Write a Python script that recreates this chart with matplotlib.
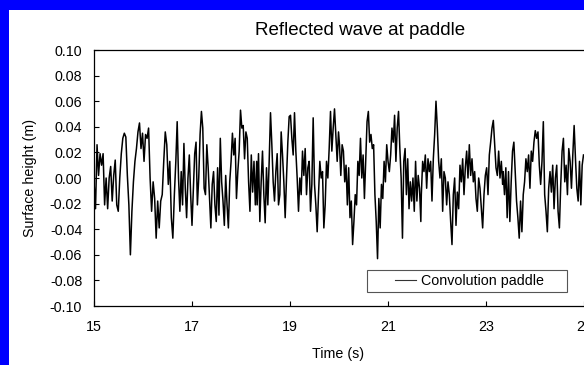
import numpy as np
import matplotlib.pyplot as plt
from matplotlib.patches import Rectangle
from matplotlib.ticker import FormatStrFormatter

plt.rcParams['font.family'] = ['Liberation Sans', 'DejaVu Sans']
plt.rcParams['axes.unicode_minus'] = False

# surface height (m), one list per stretch of time
seg_times = [(15.0, 16.64), (16.67, 18.32), (18.33, 19.99),
             (20.01, 21.67), (21.68, 23.34), (23.35, 24.99)]

h_a = [-0.003, -0.024, 0.026, 0.002, 0.019, 0.010, 0.019, -0.021, 0.000, -0.024,
       0.000, 0.009, -0.018, 0.002, 0.014, -0.021, -0.026, 0.000, 0.019, 0.031,
       0.035, 0.032, 0.002, -0.021, -0.060, -0.026, -0.003, 0.013, 0.023, 0.036,
       0.043, 0.023, 0.035, 0.013, 0.034, 0.031, 0.039, 0.000, -0.026, -0.003,
       -0.016, -0.047, -0.018, -0.039, -0.018, -0.013, 0.013, 0.036, 0.026, -0.005,
       0.013, -0.031, -0.047, -0.013]
h_b = [0.013, 0.044, 0.000, -0.026, 0.005, -0.021, 0.027, -0.008, -0.031, 0.000,
       0.018, -0.013, -0.037, -0.008, 0.019, 0.028, -0.021, 0.000, 0.034, 0.052,
       0.039, -0.008, -0.013, 0.026, 0.008, -0.016, -0.039, -0.005, 0.005, -0.021,
       -0.034, 0.008, -0.029, 0.031, -0.003, -0.018, -0.037, 0.002, -0.021, -0.039,
       -0.003, 0.013, 0.035, 0.018, 0.031, -0.016, 0.005, 0.021, 0.053, 0.039,
       0.041, 0.015, 0.036, 0.031, -0.003, -0.026, 0.018, -0.011, 0.013, -0.021,
       0.013]
h_c = [-0.021, 0.019, -0.034, -0.003, 0.021, -0.013, -0.035, 0.008, -0.021, 0.013,
       0.051, 0.026, -0.003, -0.018, 0.005, 0.019, -0.021, -0.013, 0.036, 0.018,
       -0.003, -0.031, 0.000, 0.028, 0.048, 0.049, 0.031, 0.018, 0.051, 0.021,
       0.000, -0.026, 0.000, -0.013, 0.021, 0.002, 0.023, -0.013, 0.008, 0.013,
       -0.026, -0.005, 0.047, -0.005, -0.021, -0.042, -0.013, 0.013, 0.000, 0.005,
       -0.039, -0.021, 0.013, 0.000, 0.023, 0.052, 0.021, 0.039, 0.054, 0.034,
       0.013, 0.036]
h_d = [0.026, 0.002, 0.026, 0.021, -0.003, 0.010, -0.021, 0.008, -0.031, -0.018,
       -0.052, -0.034, -0.013, -0.021, 0.013, 0.002, 0.031, 0.000, 0.018, -0.016,
       0.013, 0.044, 0.052, 0.028, 0.034, 0.023, 0.026, -0.013, -0.034, -0.063,
       -0.016, -0.039, -0.005, -0.016, 0.013, -0.003, 0.026, 0.013, 0.005, 0.018,
       0.039, 0.028, 0.049, 0.013, 0.039, 0.052, 0.023, 0.000, -0.047, 0.013,
       0.023, -0.013, 0.015, -0.024, -0.003, -0.018, 0.000, -0.026, 0.013, -0.018,
       0.002, -0.008, -0.034]
h_e = [-0.013, 0.013, 0.005, 0.018, -0.008, 0.015, 0.005, 0.013, -0.018, 0.015,
       0.034, 0.060, 0.039, 0.013, 0.000, 0.015, -0.026, 0.005, 0.000, -0.021,
       -0.003, -0.013, -0.034, -0.052, -0.013, 0.000, -0.037, -0.011, -0.024, 0.010,
       -0.003, 0.015, -0.013, 0.008, 0.021, 0.000, 0.026, 0.002, 0.015, -0.003,
       0.005, -0.016, -0.026, 0.000, -0.008, -0.024, -0.039, -0.013, 0.002, 0.008,
       -0.013, 0.018, 0.028, 0.039, 0.045, 0.026, 0.008, 0.002, 0.021, 0.000,
       0.013, -0.005]
h_f = [0.005, -0.013, 0.008, -0.031, 0.005, -0.034, -0.003, 0.021, 0.028, 0.005,
       -0.018, -0.031, -0.047, -0.018, -0.042, -0.013, -0.003, 0.015, 0.005, 0.018,
       -0.008, 0.021, 0.013, 0.028, 0.037, 0.031, 0.036, 0.010, -0.005, 0.013,
       0.044, -0.013, -0.026, -0.042, -0.008, 0.005, -0.011, 0.010, -0.024, 0.000,
       0.010, -0.026, -0.039, -0.005, 0.021, 0.031, -0.003, 0.010, -0.013, 0.023,
       0.013, -0.008, 0.018, 0.041, 0.015, -0.008, -0.018, 0.013, -0.021, 0.010,
       0.018]

segments = [h_a, h_b, h_c, h_d, h_e, h_f]
x_ticks = [15, 17, 19, 21, 23, 25]
y_ticks = [-0.10, -0.08, -0.06, -0.04, -0.02, 0.00, 0.02, 0.04, 0.06, 0.08, 0.10]

t = np.concatenate([np.linspace(a, b, len(s)) for (a, b), s in zip(seg_times, segments)])
h = np.concatenate(segments)

fig = plt.figure(figsize=(5.84, 3.65), dpi=100, facecolor='white')
# blue frame strips along the left and top edges
fig.patches.append(Rectangle((0, 0), 8.5 / 584, 1, transform=fig.transFigure,
                             facecolor='#0000ff', edgecolor='none', zorder=-10))
fig.patches.append(Rectangle((0, 1 - 9.5 / 365), 1, 9.5 / 365, transform=fig.transFigure,
                             facecolor='#0000ff', edgecolor='none', zorder=-10))

ax = fig.add_axes([94 / 584, 1 - 306 / 365, 490 / 584, 256 / 365])
ax.plot(t, h, color='black', lw=1.1, label='Convolution paddle')

ax.set_xlim(15, 25)
ax.set_ylim(-0.10, 0.10)
ax.set_xticks(x_ticks)
ax.set_yticks(y_ticks)
ax.yaxis.set_major_formatter(FormatStrFormatter('%.2f'))
ax.tick_params(direction='in', length=3.6, width=0.8, labelsize=10.3, colors='black')
ax.tick_params(axis='y', pad=8.5)
ax.tick_params(axis='x', pad=10)
for s in ['left', 'bottom', 'top']:
    ax.spines[s].set_linewidth(0.9)
    ax.spines[s].set_color('black')
ax.spines['right'].set_visible(False)

fig.text(360 / 584, 1 - 35 / 365, 'Reflected wave at paddle', fontsize=13.5,
         ha='center', va='baseline')
fig.text(338 / 584, 1 - 358 / 365, 'Time (s)', fontsize=10.3, ha='center', va='baseline')
fig.text(30 / 584, 1 - 178 / 365, 'Surface height (m)', fontsize=10.3, rotation=90,
         ha='center', va='center')

ax.add_patch(Rectangle(((367 - 94) / 490, (306 - 292) / 256), 200 / 490, 22 / 256,
                       transform=ax.transAxes, facecolor='white', edgecolor='#555555',
                       lw=0.8, zorder=3))
leg = ax.legend(loc='center left', bbox_to_anchor=((395 - 94) / 490, (306 - 281) / 256),
                frameon=False, borderpad=0, borderaxespad=0, handlelength=1.5,
                handletextpad=0.3, fontsize=10.3)
leg.set_zorder(4)
for line in leg.get_lines():
    line.set_linewidth(0.8)
    line.set_color('#333333')

fig.savefig('out.png', dpi=100)
